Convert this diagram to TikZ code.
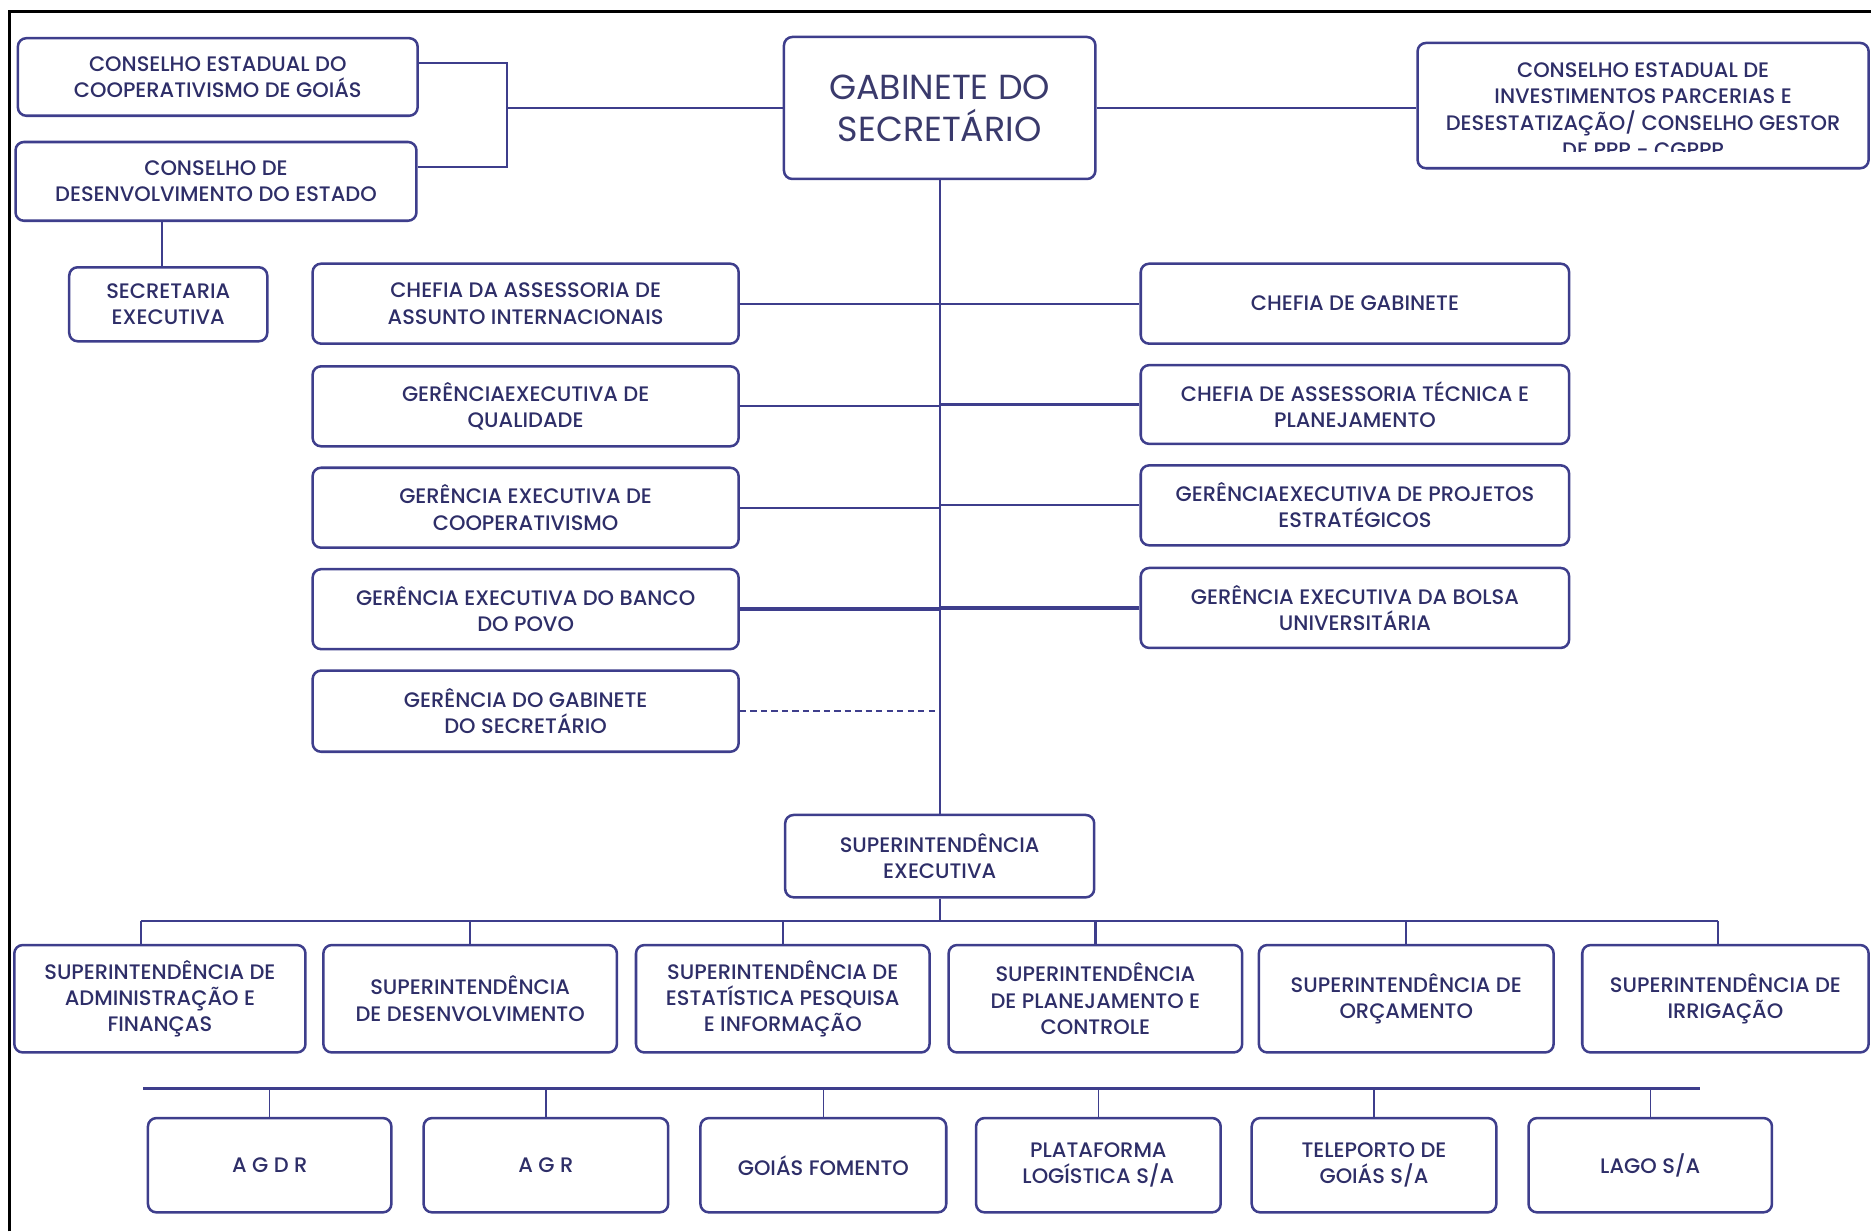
\documentclass[tikz,border=0pt]{standalone}
\usepackage{fontspec}
\setmainfont{Poppins}[UprightFont={* Medium}]
\newfontfamily\gabfont{Poppins}
\usetikzlibrary{positioning}
\definecolor{orgline}{RGB}{62,62,140}
\definecolor{orgtext}{RGB}{46,46,104}

\begin{document}
\begin{tikzpicture}[x=0.2mm, y=-0.2mm,
    orgbox/.style={draw=orgline, rectangle, rounded corners=4pt, line width=1.2pt, fill=white,
        align=center, text=orgtext, inner sep=1pt, font=\fontsize{10}{12.6}\selectfont},
    link/.style={draw=orgline, line width=1.1pt}]
\useasboundingbox (0,0) rectangle (1568,1032);
\draw[line width=1.4pt] (8,1032) -- (8,10) -- (1568,10);

\node[orgbox, minimum width=67mm, minimum height=13mm] (cecg) at (182.5,64.5) {CONSELHO ESTADUAL DO\\COOPERATIVISMO DE GOIÁS};
\node[orgbox, minimum width=67.2mm, minimum height=13.2mm] (cde) at (181,152) {CONSELHO DE\\DESENVOLVIMENTO DO ESTADO};
\node[orgbox, minimum width=33.2mm, minimum height=12.4mm] (secex) at (141,255) {SECRETARIA\\EXECUTIVA};
\node[orgbox, minimum width=52.2mm, minimum height=23.8mm, text=orgtext!85!gray, font=\gabfont\fontsize{16.6}{20}\selectfont] (gab) at (787.5,90.5) {GABINETE DO\\SECRETÁRIO};
\node[orgbox, minimum width=75.6mm, minimum height=21mm] (cepd) at (1377,88.5) {};
\begin{scope}
    \clip (1190,38) rectangle (1564,127);
    \node[align=center, text=orgtext, font=\fontsize{10}{12.7}\selectfont] (cepdtxt) at (1377,92)
        {CONSELHO ESTADUAL DE\\INVESTIMENTOS PARCERIAS E\\DESESTATIZAÇÃO/ CONSELHO GESTOR\\DE PPP - CGPPP};
\end{scope}

% assessorias e gerencias
\node[orgbox, minimum width=71.4mm, minimum height=13.4mm] (caai) at (440.5,254.5) {CHEFIA DA ASSESSORIA DE\\ASSUNTO INTERNACIONAIS};
\node[orgbox, minimum width=71.4mm, minimum height=13.4mm] (geq) at (440.5,340.5) {GERÊNCIAEXECUTIVA DE\\QUALIDADE};
\node[orgbox, minimum width=71.4mm, minimum height=13.4mm] (gec) at (440.5,425.5) {GERÊNCIA EXECUTIVA DE\\COOPERATIVISMO};
\node[orgbox, minimum width=71.4mm, minimum height=13.4mm] (gebp) at (440.5,510.5) {GERÊNCIA EXECUTIVA DO BANCO\\DO POVO};
\node[orgbox, minimum width=71.4mm, minimum height=13.6mm] (ggs) at (440.5,596) {GERÊNCIA DO GABINETE\\DO SECRETÁRIO};

\node[orgbox, minimum width=71.8mm, minimum height=13.4mm] (cg) at (1135.5,254.5) {CHEFIA DE GABINETE};
\node[orgbox, minimum width=71.8mm, minimum height=13.2mm] (catp) at (1135.5,339) {CHEFIA DE ASSESSORIA TÉCNICA E\\PLANEJAMENTO};
\node[orgbox, minimum width=71.8mm, minimum height=13.4mm] (gepe) at (1135.5,423.5) {GERÊNCIAEXECUTIVA DE PROJETOS\\ESTRATÉGICOS};
\node[orgbox, minimum width=71.8mm, minimum height=13.4mm] (gebu) at (1135.5,509.5) {GERÊNCIA EXECUTIVA DA BOLSA\\UNIVERSITÁRIA};

\node[orgbox, minimum width=51.8mm, minimum height=13.8mm] (supex) at (787.5,717.5) {SUPERINTENDÊNCIA\\EXECUTIVA};

% superintendencias
\node[orgbox, minimum width=48.8mm, minimum height=18mm] (sadm) at (134,837) {SUPERINTENDÊNCIA DE\\ADMINISTRAÇÃO E\\FINANÇAS};
\node[orgbox, minimum width=49.2mm, minimum height=18mm] (sdes) at (394,837) {SUPERINTENDÊNCIA\\DE DESENVOLVIMENTO};
\node[orgbox, minimum width=49.2mm, minimum height=18mm] (sest) at (656,837) {SUPERINTENDÊNCIA DE\\ESTATÍSTICA PESQUISA\\E INFORMAÇÃO};
\node[orgbox, minimum width=49.2mm, minimum height=18mm] (spla) at (918,837) {SUPERINTENDÊNCIA\\DE PLANEJAMENTO E\\CONTROLE};
\node[orgbox, minimum width=49.4mm, minimum height=18mm] (sorc) at (1178.5,837) {SUPERINTENDÊNCIA DE\\ORÇAMENTO};
\node[orgbox, minimum width=48mm, minimum height=18mm] (sirr) at (1446,837) {SUPERINTENDÊNCIA DE\\IRRIGAÇÃO};

% entidades vinculadas
\node[orgbox, minimum width=40.8mm, minimum height=15.8mm] (agdr) at (226,976.5) {A G D R};
\node[orgbox, minimum width=41mm, minimum height=15.8mm] (agr) at (457.5,976.5) {A G R};
\node[orgbox, minimum width=41.2mm, minimum height=15.8mm] (gfom) at (690,976.5) {GOIÁS FOMENTO};
\node[orgbox, minimum width=41mm, minimum height=15.8mm] (plog) at (920.5,976.5) {PLATAFORMA\\LOGÍSTICA S/A};
\node[orgbox, minimum width=41mm, minimum height=15.8mm] (tele) at (1151.5,976.5) {TELEPORTO DE\\GOIÁS S/A};
\node[orgbox, minimum width=40.8mm, minimum height=15.8mm] (lago) at (1383,976.5) {LAGO S/A};

\coordinate (cjoin) at (425,90.5);
\draw[link] ([yshift=2.3mm]cecg.east) -| (cjoin);
\draw[link] ([yshift=2.4mm]cde.east) -| (cjoin);
\draw[link] (cjoin) -- (gab.west);
\draw[link] (gab.east) -- (gab.east -| cepd.west);
\draw[link] ([xshift=-1mm]cde.south -| secex.north) -- ([xshift=-1mm]secex.north);

\draw[link] (gab.south) -- (supex.north);
\draw[link] (caai.east) -- (cg.west);
\draw[link] (geq.east) -- (geq.east -| gab.south);
\draw[link] (catp.west) -- (catp.west -| gab.south);
\draw[link] (gec.east) -- (gec.east -| gab.south);
\draw[link] (gepe.west) -- (gepe.west -| gab.south);
\draw[link, line width=2pt] (gebp.east) -- (gebp.east -| gab.south);
\draw[link, line width=2pt] (gebu.west) -- (gebu.west -| gab.south);
\draw[link, dashed, dash pattern=on 3pt off 2pt] (ggs.east) -- (ggs.east -| gab.south);

\coordinate (bus) at (787.5,772);
\draw[link] (supex.south) -- (bus);
\draw[link] ([xshift=-3.2mm]bus -| sadm.north) -- ([xshift=-1.2mm]bus -| sirr.north);
\draw[link] ([xshift=-3.2mm]sadm.north) -- ([xshift=-3.2mm]bus -| sadm.north);
\foreach \s in {sdes,sest,spla,sorc} {
    \draw[link] (\s.north) -- (bus -| \s.north);
}
\draw[link] ([xshift=-1.2mm]sirr.north) -- ([xshift=-1.2mm]bus -| sirr.north);

\coordinate (ebusw) at (120,912);
\coordinate (ebuse) at (1425,912);
\draw[link, line width=1.6pt] (ebusw) -- (ebuse);
\foreach \e in {agdr,agr,gfom,plog,tele,lago} {
    \draw[draw=orgline, line width=0.6pt] (\e.north) -- (ebusw -| \e.north);
}
\end{tikzpicture}
\end{document}
